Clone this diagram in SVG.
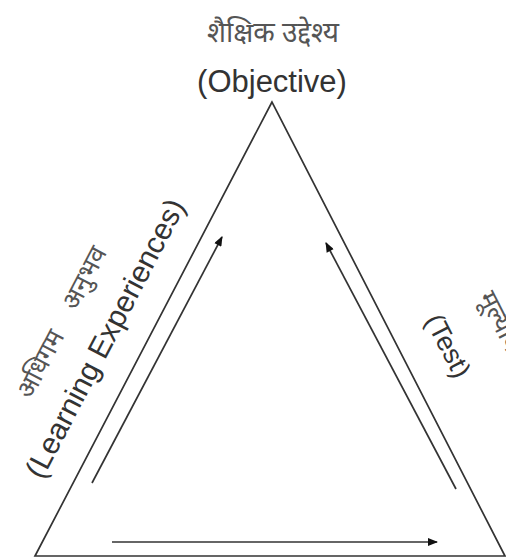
<svg xmlns="http://www.w3.org/2000/svg" width="506" height="558" viewBox="0 0 506 558">
<defs>
<style>
.edge{fill:none;stroke:#333;stroke-width:1.7}
.arr{fill:none;stroke:#333;stroke-width:1.7;marker-end:url(#ah)}
.en{font-family:"Liberation Sans",Arial,sans-serif;fill:#333}
.hi{font-family:"Noto Sans","Noto Sans Devanagari","Lohit Devanagari",sans-serif;fill:#555}
</style>
<marker id="ah" viewBox="0 0 10 8" refX="9" refY="4" markerWidth="11" markerHeight="8" markerUnits="userSpaceOnUse" orient="auto">
<path d="M0,0 L10,4 L0,8 Z" fill="#111"/>
</marker>
</defs>
<rect width="506" height="558" fill="#fff"/>
<g id="triangle">
<polygon class="edge" points="272,102 35,556 505,556"/>
</g>
<g id="node-objective">
<text class="hi" x="273" y="42" font-size="28" text-anchor="middle">शैक्षिक उद्देश्य</text>
<text class="en" x="272" y="92" font-size="31" text-anchor="middle">(Objective)</text>
</g>
<g id="node-learning">
<text class="hi" font-size="26" text-anchor="middle" transform="translate(48,368) rotate(-62.4)">अधिगम</text>
<text class="hi" font-size="26" text-anchor="middle" transform="translate(92,282) rotate(-62.4)">अनुभव</text>
<text class="en" font-size="30" text-anchor="middle" transform="translate(114,343) rotate(-62.4)">(Learning Experiences)</text>
</g>
<g id="node-test">
<text class="en" font-size="27" text-anchor="middle" transform="translate(440,350) rotate(62.8)">(Test)</text>
<text class="hi" font-size="26" text-anchor="start" transform="translate(478,297) rotate(62.8)">मूल्यांकन</text>
</g>
<g id="connectors">
<line class="arr" x1="92" y1="483" x2="222" y2="237"/>
<line class="arr" x1="456" y1="489" x2="326" y2="243"/>
<line class="arr" x1="112" y1="542" x2="437" y2="542"/>
</g>
</svg>
